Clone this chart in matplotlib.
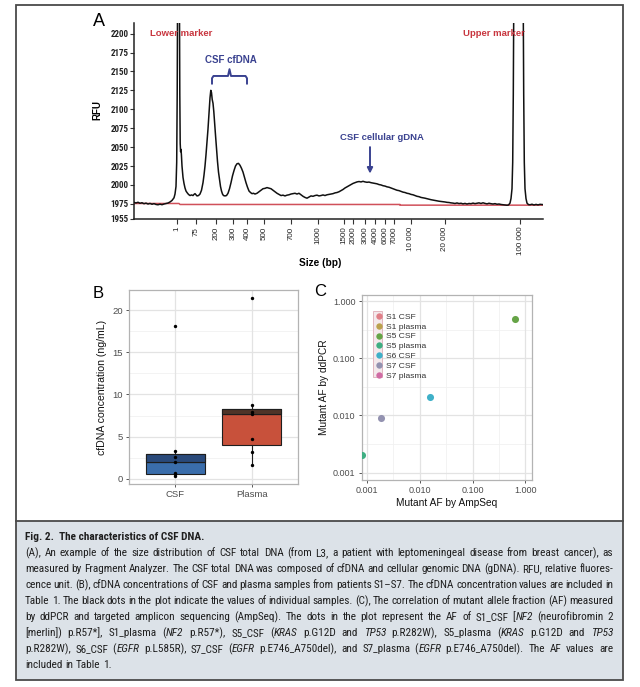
import matplotlib
matplotlib.use('Agg')
import matplotlib.pyplot as plt
import numpy as np
from matplotlib import font_manager
from matplotlib.patches import Rectangle
from matplotlib.lines import Line2D
import matplotlib.cbook as cbook

ttf = font_manager.fontManager.ttflist
names = {f.name for f in ttf}
dejavu_cond = any(f.name == 'DejaVu Sans' and str(f.stretch) in ('condensed', 'semi-condensed', '500')
                  for f in ttf)
if 'Liberation Sans Narrow' in names:
    NARROW, NSTRETCH = 'Liberation Sans Narrow', 'normal'
elif 'Roboto Condensed' in names:
    NARROW, NSTRETCH = 'Roboto Condensed', 'normal'
elif dejavu_cond:
    NARROW, NSTRETCH = 'DejaVu Sans', 'condensed'
elif 'Roboto' in names:
    NARROW, NSTRETCH = 'Roboto', 'normal'
else:
    NARROW, NSTRETCH = 'DejaVu Sans', 'normal'
SANS = 'Liberation Sans' if 'Liberation Sans' in names else 'DejaVu Sans'

# ---------------- Panel A data (Fragment Analyzer trace) ----------------
trace_x = [0.0, 0.2, 0.4, 0.6, 0.8, 1.0, 1.2, 1.4, 1.6, 1.8, 2.0, 2.2, 2.4, 2.6, 2.8, 3.0, 3.2, 3.4, 3.6, 3.8, 4.0,
           4.1, 4.2, 4.27, 4.32, 4.36, 4.45, 4.54, 4.58, 4.62, 4.66, 4.7, 4.74, 4.8, 4.9, 5.0, 5.1, 5.2, 5.3, 5.45,
           5.6, 5.75, 5.9, 6.0, 6.1, 6.2, 6.3, 6.45, 6.6, 6.75, 6.9, 7.0, 7.1, 7.2, 7.3, 7.4, 7.5, 7.6, 7.68, 7.75,
           7.82, 7.9, 7.98, 8.05, 8.15, 8.25, 8.35, 8.45, 8.55, 8.65, 8.75, 8.85, 8.95, 9.1, 9.25, 9.4, 9.55, 9.7,
           9.85, 10.0, 10.15, 10.3, 10.45, 10.6, 10.75, 10.9, 11.05, 11.2, 11.35, 11.5, 11.65, 11.8, 11.95, 12.1,
           12.3, 12.5, 12.7, 12.9, 13.1, 13.3, 13.5, 13.7, 13.9, 14.1, 14.3, 14.5, 14.7, 14.9, 15.1, 15.3, 15.5,
           15.7, 15.9, 16.1, 16.3, 16.5, 16.7, 16.9, 17.1, 17.3, 17.5, 17.7, 17.9, 18.1, 18.3, 18.5, 18.7, 18.9,
           19.1, 19.3, 19.5, 19.7, 19.9, 20.1, 20.3, 20.5, 20.7, 20.9, 21.1, 21.3, 21.5, 21.7, 21.9, 22.1, 22.3,
           22.5, 22.7, 22.9, 23.1, 23.3, 23.5, 23.7, 23.9, 24.1, 24.3, 24.5, 24.7, 24.9, 25.1, 25.3, 25.5, 25.7,
           25.9, 26.1, 26.3, 26.5, 26.7, 26.9, 27.1, 27.3, 27.5, 27.7, 27.9, 28.1, 28.3, 28.5, 28.7, 28.9, 29.1,
           29.3, 29.5, 29.7, 29.9, 30.1, 30.3, 30.5, 30.7, 30.9, 31.1, 31.3, 31.5, 31.7, 31.9, 32.1, 32.3, 32.5,
           32.7, 32.9, 33.1, 33.3, 33.5, 33.7, 33.9, 34.1, 34.3, 34.5, 34.7, 34.9, 35.1, 35.3, 35.5, 35.7, 35.9,
           36.1, 36.3, 36.5, 36.7, 36.9, 37.1, 37.3, 37.45, 37.6, 37.7, 37.8, 37.87, 37.93, 38.0, 38.45, 38.9,
           38.97, 39.03, 39.1, 39.2, 39.3, 39.45, 39.6, 39.8, 40.0, 40.2, 40.4, 40.6, 40.9]
trace_rfu = [1977, 1976.2, 1977.1, 1975.8, 1976.5, 1975.2, 1976, 1974.8, 1975.6, 1974.5, 1975.3, 1974.2, 1973.8, 1974.6, 1973.9, 1974.8, 1975.4, 1976.1, 1977.5, 1979.5, 1983,
             1988, 1998, 2030, 2120, 2260, 2420, 2260, 2120, 2055, 2044, 2047, 2040, 2025, 2010, 2002, 1996, 1992, 1990, 1987.5,
             1986, 1986.8, 1986, 1987.5, 1988.5, 1987, 1985.5, 1986, 1988, 1993, 2003, 2013, 2025, 2040, 2057, 2074, 2094, 2115, 2125, 2122,
             2113, 2108, 2097, 2085, 2066, 2048, 2031, 2017, 2007, 1998, 1992, 1988, 1986, 1985.5, 1986, 1989, 1995, 2003,
             2012, 2019, 2025, 2028, 2028.5, 2026, 2022, 2017, 2010, 2003, 1997, 1992, 1990, 1988.5, 1989, 1988,
             1989, 1991, 1993, 1995, 1995.5, 1996.5, 1995.8, 1995, 1993, 1991, 1989, 1987.5, 1986, 1986.5, 1985.5, 1986.5, 1987,
             1988, 1988.5, 1989, 1988, 1989, 1987, 1985, 1983.5, 1982.5, 1984, 1985.5, 1985, 1986, 1986.5, 1985.5, 1986, 1986.8,
             1986, 1987, 1987.5, 1988, 1988.5, 1989.5, 1990, 1991, 1992.5, 1994, 1996, 1997.5, 1999, 2000.5, 2002, 2003, 2004,
             2004.5, 2004, 2004.8, 2004, 2003.5, 2003.8, 2003, 2002.5, 2002, 2001.5, 2000.5, 2000, 1999, 1998.5, 1997.5, 1997, 1996,
             1995, 1994, 1993, 1992.5, 1991.5, 1990.5, 1990, 1989, 1988.5, 1987.5, 1987, 1986, 1985, 1984.5, 1983.5, 1983, 1982.5,
             1981.8, 1981, 1980.5, 1980, 1979.5, 1979, 1978.5, 1978.2, 1977.8, 1977.5, 1977, 1976.8, 1976.3, 1976, 1975.5, 1976.2, 1975.4,
             1975.8, 1975, 1975.6, 1974.8, 1975.5, 1975.2, 1976, 1975.3, 1975.8, 1976.3, 1975.5, 1976.4, 1975.6, 1975, 1975.8, 1975.2, 1974.8,
             1975.3, 1974.5, 1974.8, 1974.2, 1973.8, 1973.5, 1973.2, 1973.5, 1976, 1982, 1995, 2030, 2120, 2300, 2600, 2300,
             2120, 2030, 1995, 1982, 1976, 1974, 1973.8, 1974.5, 1973.5, 1974.3, 1973.6, 1974.4, 1974]
baseline_x = [0.0, 4.5, 4.6, 26.6, 26.6, 40.9]
baseline_rfu = [1975.5, 1975.5, 1974.2, 1974.2, 1973.3, 1973.3]
ladder_bp = ['1', '75', '200', '300', '400', '500', '700', '1000', '1500', '2000', '3000', '4000',
             '6000', '7000', '10 000', '20 000', '100 000']
ladder_pos = [4.3, 6.2, 8.2, 9.9, 11.3, 13.0, 15.7, 18.4, 21.0, 21.9, 23.1, 24.1, 25.1, 26.0, 27.7, 31.1, 38.6]
rfu_ticks = [1955, 1975, 2000, 2025, 2050, 2075, 2100, 2125, 2150, 2175, 2200]

# ---------------- Panel B data ----------------
conc_groups = ['CSF', 'Plasma']
csf_conc = [0.3, 0.5, 0.62, 2.0, 2.53, 3.33, 18.1]
plasma_conc = [1.6, 3.2, 4.7, 7.7, 7.9, 8.7, 21.4]
box_fill = ['#3a6dab', '#c8513b']
box_upper = ['#29497a', '#4f3428']

# ---------------- Panel C data ----------------
af_samples = ['S1 CSF', 'S1 plasma', 'S5 CSF', 'S5 plasma', 'S6 CSF', 'S7 CSF', 'S7 plasma']
af_colors = ['#e07f88', '#bba14e', '#66a447', '#3fae82', '#3fb0c8', '#9392b0', '#d06ca4']
af_ampseq = [np.nan, np.nan, 0.64, 0.0008, 0.0159, 0.0019, np.nan]
af_ddpcr = [np.nan, np.nan, 0.48, 0.0020, 0.0206, 0.0091, np.nan]
af_ticks = [0.001, 0.010, 0.100, 1.000]
af_ticklabels = ['0.001', '0.010', '0.100', '1.000']

W, H = 640, 687
fig = plt.figure(figsize=(W / 100, H / 100), dpi=100)
fig.patch.set_facecolor('white')


def fx(px):
    return px / W


def fy(py):
    return 1 - py / H


# ---------------- frame and caption box ----------------
fig.patches.append(Rectangle((fx(16), fy(680)), fx(622.5) - fx(16), fy(521) - fy(680),
                             transform=fig.transFigure, facecolor='#dce2e8', edgecolor='none', zorder=0))
fig.patches.append(Rectangle((fx(16), fy(680)), fx(622.5) - fx(16), fy(5) - fy(680),
                             transform=fig.transFigure, facecolor='none', edgecolor='#4a4a4a', lw=1.3, zorder=1))
fig.add_artist(Line2D([fx(16), fx(622.5)], [fy(521), fy(521)], transform=fig.transFigure,
                      color='#4a4a4a', lw=1.3))

# ---------------- Panel A ----------------
RED = '#c8363f'
BLUE = '#3a4290'
axA = fig.add_axes([fx(134), fy(219), fx(543) - fx(134), fy(23) - fy(219)])
axA.plot(baseline_x, baseline_rfu, color='#d0505a', lw=1.1, zorder=2)
axA.plot(trace_x, trace_rfu, color='#111111', lw=1.1, zorder=3)
axA.set_xlim(0, 40.9)
axA.set_ylim(1955, 2214)
for s in ['top', 'right']:
    axA.spines[s].set_visible(False)
for s in ['left', 'bottom']:
    axA.spines[s].set_color('#222222')
    axA.spines[s].set_linewidth(1.1)
axA.set_yticks(rfu_ticks)
axA.set_yticklabels([str(v) for v in rfu_ticks], family=NARROW, fontstretch=NSTRETCH, fontsize=6.5,
                    fontweight='bold', color='#222222')
axA.set_xticks(ladder_pos)
axA.set_xticklabels(ladder_bp, rotation=90, family=SANS, fontsize=5.8, color='#222222')
axA.tick_params(axis='y', length=3, width=0.8, pad=1, color='#333333')
axA.tick_params(axis='x', length=3.5, width=0.8, pad=2, color='#333333')
fig.text(fx(97.5), fy(110), 'RFU', family=SANS, fontsize=7, fontweight='bold', rotation=90,
         ha='center', va='center')
fig.text(fx(320), fy(263), 'Size (bp)', family=SANS, fontsize=7.3, fontweight='bold', ha='center', va='center')
fig.text(fx(99), fy(21), 'A', family=SANS, fontsize=13, ha='center', va='center')

axA.text(1.6, 2200, 'Lower marker', color=RED, family=SANS, fontsize=6.8, fontweight='bold', va='center', ha='left')
axA.text(32.9, 2200, 'Upper marker', color=RED, family=SANS, fontsize=6.8, fontweight='bold', va='center', ha='left')
axA.text(9.7, 2165, 'CSF cfDNA', color=BLUE, family=SANS, fontsize=7, fontweight='bold', va='center', ha='center')
axA.plot([7.8, 7.8, 7.95, 9.4, 9.55, 9.7, 11.15, 11.3, 11.3],
         [2134, 2141, 2144, 2144, 2153, 2144, 2144, 2141, 2134], color=BLUE, lw=1.4)
axA.text(24.75, 2063, 'CSF cellular gDNA', color=BLUE, family=SANS, fontsize=6.8, fontweight='bold',
         va='center', ha='center')
axA.annotate('', xy=(23.6, 2015), xytext=(23.6, 2050),
             arrowprops=dict(arrowstyle='-|>', color=BLUE, lw=1.4, mutation_scale=8, shrinkA=0, shrinkB=0))

# ---------------- Panel B ----------------
GRID_MAJ = '#e3e3e3'
GRID_MIN = '#f1f1f1'
axB = fig.add_axes([fx(129), fy(484), fx(298) - fx(129), fy(290) - fy(484)])
axB.set_xlim(0.4, 2.6)
axB.set_ylim(-0.63, 22.4)
for v in [2.5, 7.5, 12.5, 17.5]:
    axB.axhline(v, color=GRID_MIN, lw=0.6, zorder=0)
for v in [0, 5, 10, 15, 20]:
    axB.axhline(v, color=GRID_MAJ, lw=0.9, zorder=0)
for v in [1, 2]:
    axB.axvline(v, color=GRID_MAJ, lw=0.9, zorder=0)
data_b = [csf_conc, plasma_conc]
stats = cbook.boxplot_stats(data_b, whis=1.5)
for st in stats:
    st['fliers'] = []
bp = axB.bxp(stats, positions=[1, 2], widths=0.77, patch_artist=True, showfliers=False,
             boxprops=dict(edgecolor='#1e1e1e', lw=0.8),
             whiskerprops=dict(color='#1e1e1e', lw=0.8),
             capprops=dict(lw=0), medianprops=dict(color='#1c1c1c', lw=1.6), zorder=2)
for patch, c in zip(bp['boxes'], box_fill):
    patch.set_facecolor(c)
for i, st in enumerate(stats):
    axB.add_patch(Rectangle((i + 1 - 0.385, st['med']), 0.77, st['q3'] - st['med'],
                            facecolor=box_upper[i], edgecolor='#1e1e1e', lw=0.8, zorder=2.5))
for i, vals in enumerate(data_b):
    axB.scatter(np.full(len(vals), i + 1.0), vals, s=6, color='black', zorder=4, lw=0)
axB.set_xticks([1, 2])
axB.set_xticklabels(conc_groups)
axB.set_yticks([0, 5, 10, 15, 20])
for s in axB.spines.values():
    s.set_color('#b3b3b3')
    s.set_linewidth(0.9)
axB.tick_params(length=2.5, width=0.7, color='#555555', labelsize=6.8, labelcolor='#4d4d4d', pad=2)
for lab in axB.get_xticklabels() + axB.get_yticklabels():
    lab.set_family(SANS)
axB.set_ylabel('cfDNA concentration (ng/mL)', family=SANS, fontsize=7.6, color='#111111', labelpad=4)
fig.text(fx(98), fy(294), 'B', family=SANS, fontsize=12, ha='center', va='center')

# ---------------- Panel C ----------------
axC = fig.add_axes([fx(361.7), fy(480), fx(532.3) - fx(361.7), fy(295) - fy(480)])
axC.set_xscale('log')
axC.set_yscale('log')
axC.set_xlim(10 ** -3.095, 10 ** 0.13)
axC.set_ylim(10 ** -3.13, 10 ** 0.105)
for e in [-2.5, -1.5, -0.5]:
    axC.axhline(10 ** e, color=GRID_MIN, lw=0.6, zorder=0)
    axC.axvline(10 ** e, color=GRID_MIN, lw=0.6, zorder=0)
for v in af_ticks:
    axC.axhline(v, color=GRID_MAJ, lw=0.9, zorder=0)
    axC.axvline(v, color=GRID_MAJ, lw=0.9, zorder=0)
for name, c, xv, yv in zip(af_samples, af_colors, af_ampseq, af_ddpcr):
    axC.scatter([xv], [yv], s=26, color=c, lw=0, zorder=3, label=name, clip_on=True)
axC.set_xticks(af_ticks)
axC.set_xticklabels(af_ticklabels)
axC.set_yticks(af_ticks)
axC.set_yticklabels(af_ticklabels)
axC.minorticks_off()
for s in axC.spines.values():
    s.set_color('#b3b3b3')
    s.set_linewidth(0.9)
axC.tick_params(length=2.5, width=0.7, color='#555555', labelsize=6.5, labelcolor='#4d4d4d', pad=2)
for lab in axC.get_xticklabels() + axC.get_yticklabels():
    lab.set_family(SANS)
axC.set_xlabel('Mutant AF by AmpSeq', family=SANS, fontsize=7.3, color='#111111', labelpad=2)
axC.set_ylabel('Mutant AF by ddPCR', family=SANS, fontsize=7.3, color='#111111', labelpad=3)
axC.add_patch(Rectangle((0.064, 0.558), 0.053, 0.356, transform=axC.transAxes,
                        facecolor='#f4e9ec', edgecolor='#e2b7c0', lw=0.7, zorder=1))
handles = [Line2D([], [], marker='o', ls='', markersize=4.6, markerfacecolor=c, markeredgewidth=0)
           for c in af_colors]
leg = axC.legend(handles, af_samples, loc='upper left', bbox_to_anchor=(0.045, 0.935), frameon=False,
                 prop={'family': SANS, 'size': 6.1}, handlelength=0.8, handletextpad=0.45,
                 labelspacing=0.22, borderpad=0.2)
for t in leg.get_texts():
    t.set_color('#333333')
fig.text(fx(320), fy(292), 'C', family=SANS, fontsize=12, ha='center', va='center')

# ---------------- Caption ----------------
renderer = fig.canvas.get_renderer()
CAP_COLOR = '#1f1f1f'
cap_left, cap_right = 25.0, 613.0

header = 'Fig. 2.  The characteristics of CSF DNA.'
cap_lines = [
    '(A), An example of the size distribution of CSF total DNA (from L3, a patient with leptomeningeal disease from breast cancer), as',
    'measured by Fragment Analyzer. The CSF total DNA was composed of cfDNA and cellular genomic DNA (gDNA). RFU, relative fluores-',
    'cence unit. (B), cfDNA concentrations of CSF and plasma samples from patients S1\u2013S7. The cfDNA concentration values are included in',
    'Table 1. The black dots in the plot indicate the values of individual samples. (C), The correlation of mutant allele fraction (AF) measured',
    'by ddPCR and targeted amplicon sequencing (AmpSeq). The dots in the plot represent the AF of S1_CSF [~NF2~ (neurofibromin 2',
    '[merlin]) p.R57*], S1_plasma (~NF2~ p.R57*), S5_CSF (~KRAS~ p.G12D and ~TP53~ p.R282W), S5_plasma (~KRAS~ p.G12D and ~TP53~',
    'p.R282W), S6_CSF (~EGFR~ p.L585R), S7_CSF (~EGFR~ p.E746_A750del), and S7_plasma (~EGFR~ p.E746_A750del). The AF values are',
    'included in Table 1.',
]


def text_w(s, fs, **kw):
    t = fig.text(0, 0, s, family=NARROW, fontstretch=NSTRETCH, fontsize=fs, **kw)
    w = t.get_window_extent(renderer).width
    t.remove()
    return w


# choose the caption font size so the widest justified line fits with near-normal word spacing
REF_FS = 10.0
natural = max(text_w(l.replace('~', ''), REF_FS) for l in cap_lines[:-1])
CAP_FS = min(8.8, REF_FS * (cap_right - cap_left) / natural * 1.025)
space_w = text_w('a a', CAP_FS) - text_w('aa', CAP_FS)

fig.text(fx(cap_left), fy(540.5), header, family=NARROW, fontstretch=NSTRETCH, fontweight='bold',
         fontsize=CAP_FS, color=CAP_COLOR, va='baseline', ha='left')


def place_line(line, baseline_py, justify):
    words = line.split(' ')
    items = []
    for w in words:
        parts = w.split('~')
        runs = []
        for k, p in enumerate(parts):
            if not p:
                continue
            t = fig.text(0, fy(baseline_py), p, family=NARROW, fontstretch=NSTRETCH, fontsize=CAP_FS,
                         style='italic' if k % 2 == 1 else 'normal', color=CAP_COLOR, va='baseline', ha='left')
            runs.append((t, t.get_window_extent(renderer).width))
        items.append(runs)
    widths = [sum(r[1] for r in runs) for runs in items]
    if justify and len(items) > 1:
        gap = (cap_right - cap_left - sum(widths)) / (len(items) - 1)
    else:
        gap = space_w
    x = cap_left
    for runs, wsum in zip(items, widths):
        for t, wpx in runs:
            t.set_x(fx(x))
            x += wpx
        x += gap


for i, line in enumerate(cap_lines):
    place_line(line, 556.5 + 16 * i, justify=(i < len(cap_lines) - 1))

fig.savefig('out.png', dpi=100)
